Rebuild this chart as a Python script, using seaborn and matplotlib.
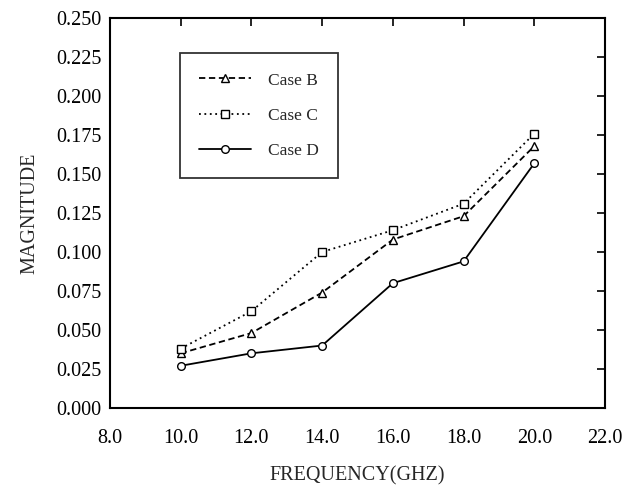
import matplotlib
matplotlib.use("Agg")
import matplotlib.pyplot as plt
import seaborn as sns
import pandas as pd

freq = [10.0, 12.0, 14.0, 16.0, 18.0, 20.0]
case_b = [0.035, 0.048, 0.074, 0.108, 0.123, 0.168]
case_c = [0.038, 0.062, 0.100, 0.114, 0.131, 0.176]
case_d = [0.027, 0.035, 0.040, 0.080, 0.094, 0.157]
x_ticks = [8.0, 10.0, 12.0, 14.0, 16.0, 18.0, 20.0, 22.0]
y_ticks = [0.0, 0.025, 0.05, 0.075, 0.1, 0.125, 0.15, 0.175, 0.2, 0.225, 0.25]

sns.set_style("white")
plt.rcParams['font.family'] = ['Liberation Serif', 'DejaVu Serif']

fig = plt.figure(figsize=(6.39, 4.92), dpi=100)
ax = fig.add_axes([0.172, 0.171, 0.775, 0.792])

df = pd.DataFrame({
    "freq": freq * 3,
    "mag": case_b + case_c + case_d,
    "case": ["Case B"] * 6 + ["Case C"] * 6 + ["Case D"] * 6,
})

styles = {
    "Case B": dict(ls=(0, (3.5, 2.0)), marker="^"),
    "Case C": dict(ls=(0, (1, 2)), marker="s"),
    "Case D": dict(ls="-", marker="o"),
}
for name in ["Case B", "Case C", "Case D"]:
    sub = df[df["case"] == name]
    sns.lineplot(data=sub, x="freq", y="mag", ax=ax, color="black",
                 linestyle=styles[name]["ls"], marker=styles[name]["marker"],
                 markersize=5.5, markerfacecolor="white", markeredgecolor="black",
                 markeredgewidth=1.0, linewidth=1.3, label=name)

ax.set_xlim(8, 22)
ax.set_ylim(0, 0.25)
ax.set_xticks(x_ticks)
ax.set_xticklabels([f"{v:.1f}" for v in x_ticks])
ax.set_yticks(y_ticks)
ax.set_yticklabels([f"{v:.3f}" for v in y_ticks])
ax.tick_params(direction="in", length=6, width=1.2, top=True, right=True,
               labelsize=14.5, colors="black", pad=6)
ax.tick_params(axis="x", pad=15)
for s in ax.spines.values():
    s.set_visible(True)
    s.set_color("black")
    s.set_linewidth(1.5)

ax.set_xlabel("FREQUENCY(GHZ)", fontsize=14.5, labelpad=13)
ax.set_ylabel("MAGNITUDE", fontsize=14.5, labelpad=12)

leg = ax.legend(loc="upper left", bbox_to_anchor=(0.141, 0.91), fontsize=12.5,
                frameon=True, fancybox=False, edgecolor="black",
                handlelength=3.0, labelspacing=1.1, borderpad=1.1,
                handletextpad=1.0, borderaxespad=0)
leg.get_frame().set_linewidth(1.3)

fig.savefig("out.png", dpi=100)
